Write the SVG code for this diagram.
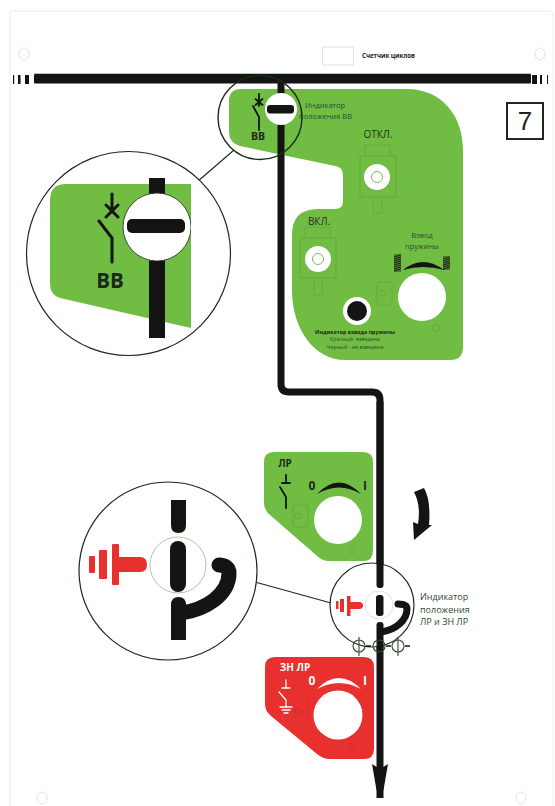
<svg xmlns="http://www.w3.org/2000/svg" width="555" height="806" viewBox="0 0 555 806">
<style>
.g{fill:#71bd44}
.r{fill:#e8312f}
.k{fill:#141414}
.w{fill:#fff}
.ring{fill:#fff;stroke:#1c2a1c;stroke-width:1.2}
.ringo{fill:none;stroke:#1c2a1c;stroke-width:1.4}
.sym{fill:none;stroke:#141414;stroke-width:1.8;stroke-linecap:round}
.hair{fill:none;stroke:#5fa83a;stroke-width:.8}
.hairr{fill:none;stroke:#c62a28;stroke-width:.8}
.hole{fill:#fff;stroke:#dfe6da;stroke-width:1}
.line{fill:none;stroke:#141414;stroke-width:7}
.t{font-family:"Open Sans","Noto Sans",sans-serif;fill:#2f4a2f}
.d{font-family:"Open Sans","Noto Sans",sans-serif;fill:#1f2f1f}
.b{font-family:"Open Sans","Noto Sans",sans-serif;font-weight:700;fill:#1a2a1a}
.wt{font-family:"Open Sans","Noto Sans",sans-serif;font-weight:700;fill:#fff}
.m{text-anchor:middle}
</style>
<g id="page">
<rect x="0" y="0" width="555" height="806" fill="#fff"/>
<rect x="10" y="11" width="543" height="815" rx="3" fill="#fff" stroke="#eceeea" stroke-width="1"/>
<ellipse class="hole" cx="24" cy="54" rx="5" ry="6"/>
<ellipse class="hole" cx="540" cy="54" rx="5" ry="6"/>
<ellipse class="hole" cx="42" cy="798" rx="5" ry="6"/>
<ellipse class="hole" cx="521" cy="798" rx="5" ry="6"/>
</g>
<g id="counter">
<rect x="322.500" y="47" width="31" height="18" fill="#fff" stroke="#e2e4df"/>
<text class="b" x="362" y="58" font-size="6.300" textLength="53">Счетчик циклов</text>
</g>
<g id="panel-main">
<path class="g" d="M241 89H407C441 89 463 115 463 150V347Q463 360 450 360H345C315 360 292 330 292 290V235Q292 209 318 209H335Q343 209 343 201V175Q343 167 335 166L240 146Q229 143 229 132V101Q229 89 241 89Z"/>
<text class="b m" x="258" y="140" font-size="10.500">ВВ</text>
<path class="sym" d="M259 94V106M255.500 99L262.500 105M262.500 99L255.500 105M253 106L259 117V130"/>
<text class="t" x="305" y="108" font-size="7.500">Индикатор</text>
<text class="t" x="299" y="119" font-size="7.500">положения ВВ</text>
<text class="d m" x="378" y="138" font-size="10">ОТКЛ.</text>
<g class="hair"><rect x="360" y="156" width="36" height="41"/><path d="M365 156V145H390V156M373 197V213H382V197"/></g>
<circle class="w" cx="377" cy="177" r="13"/>
<circle class="hair" cx="377" cy="177" r="5.500"/>
<text class="d m" x="319" y="225" font-size="10">ВКЛ.</text>
<g class="hair"><rect x="300" y="238" width="36" height="40"/><path d="M305 238V227H330V238M314 280V295H322V280"/></g>
<circle class="w" cx="318" cy="259" r="13"/>
<circle class="hair" cx="318" cy="259" r="5.500"/>
<text class="t m" x="422" y="238" font-size="7.500">Взвод</text>
<text class="t m" x="422" y="249" font-size="7.500">пружины</text>
<path class="k" d="M403 270Q423 254 444 270Q423 264 403 270Z"/>
<path d="M394 255H401L394 257H401L394 259H401L394 261H401L394 263H401L394 265H401L394 267H401L394 269H401L394 271H401" fill="none" stroke="#141414" stroke-width=".8"/>
<path d="M443 257H450L443 259H450L443 261H450L443 263H450L443 265H450L443 267H450L443 269H450" fill="none" stroke="#141414" stroke-width=".8"/>
<rect class="hair" x="377" y="282" width="15" height="23" rx="2"/>
<circle class="hair" cx="383" cy="293" r="3"/>
<circle class="w" cx="422" cy="297" r="24"/>
<circle class="hair" cx="436" cy="328" r="3.500"/>
<circle class="w" cx="357" cy="311" r="14"/>
<circle class="k" cx="357" cy="311" r="10"/>
<text class="b m" x="355" y="334" font-size="5.300">Индикатор взвода пружины</text>
<text class="t m" x="355" y="341" font-size="5.300">Красный- взведена</text>
<text class="t m" x="355" y="349" font-size="5.300">Черный - не взведена</text>
</g>
<g id="panel-lr">
<path class="g" d="M274 452H363Q373 452 373 462V551Q373 561 363 561H329Q322 561 316 555L270 515Q264 510 264 503V462Q264 452 274 452Z"/>
<text class="b m" x="285" y="467" font-size="10">ЛР</text>
<path class="sym" d="M286 475V483M282 483H290M280 487L286 497V508"/>
<text class="b m" x="312" y="490" font-size="12">0</text>
<text class="b m" x="365" y="490" font-size="12">I</text>
<path class="k" d="M317 494Q339 471 361 494Q339 481 317 494Z"/>
<rect class="hair" x="293" y="505" width="15" height="22" rx="2"/>
<circle class="hair" cx="298" cy="516" r="3"/>
<circle class="w" cx="338" cy="520" r="24"/>
<circle class="hair" cx="352" cy="550" r="3"/>
</g>
<g id="panel-zn">
<path class="r" d="M275 657H364Q374 657 374 667V749Q374 759 364 759H330Q323 759 317 754L271 716Q265 711 265 704V667Q265 657 275 657Z"/>
<text class="wt m" x="295" y="671" font-size="10">ЗН ЛР</text>
<path d="M286 680V688M282 688H290M279 692L286 700V707M280 707H292M282 710H290M284 713H288" fill="none" stroke="#fff" stroke-width="1.300" stroke-linecap="round"/>
<text class="wt m" x="312" y="685" font-size="12">0</text>
<text class="wt m" x="365" y="685" font-size="12">I</text>
<path class="w" d="M317 689Q339 667 361 689Q339 677 317 689Z"/>
<path class="hairr" d="M308 698V722"/>
<circle class="hairr" cx="298" cy="711" r="3"/>
<circle class="w" cx="338" cy="715" r="24.500"/>
<circle class="hairr" cx="352" cy="746" r="3"/>
</g>
<g id="connectors">
<rect class="k" x="34" y="74" width="497" height="9.500" rx="1"/>
<path d="M34 73.500H531" stroke="#9cc77f" stroke-width=".8" fill="none"/>
<g class="k">
<rect x="13" y="75" width="1.200" height="9"/><rect x="18" y="75" width="2.500" height="9"/><rect x="25" y="75" width="4" height="9"/>
<rect x="532" y="75" width="5" height="9"/><rect x="540" y="75" width="2" height="9"/><rect x="547" y="75" width="1" height="9"/>
</g>
<path class="line" d="M281 83V384Q281 392 289 392H372Q380 392 380 400V798"/>
<path class="k" d="M372 764L380 769L388 764L383.500 790H376.500Z"/>
<path class="k" d="M414 492L424 488Q431 500 429 525L432 525L414 540L413 522L418 524Q421 505 414 492Z"/>
<path fill="none" stroke="#1c2a1c" stroke-width="1.100" d="M197 182L234 150"/>
<path fill="none" stroke="#1c2a1c" stroke-width="1.100" d="M255 582L331 603"/>
</g>
<g id="indicator-vv-small">
<circle class="ringo" cx="260" cy="117.500" r="42"/>
<circle class="w" cx="281" cy="109" r="16"/>
<rect class="k" x="267" y="105" width="27" height="8.500" rx="3"/>
</g>
<g id="indicator-vv-large">
<circle class="ring" cx="128.500" cy="253.500" r="102"/>
<path class="g" d="M66 184H191V328L60 298Q50 295 50 284V200Q50 184 66 184Z"/>
<rect class="k" x="149" y="178" width="16" height="160"/>
<circle fill="#fff" stroke="#1c2a1c" stroke-width=".8" cx="157" cy="227" r="34"/>
<path fill="#fff" d="M191 193H198V261H191Z"/>
<rect class="k" x="127" y="219" width="58" height="14" rx="5"/>
<path fill="none" stroke="#141414" stroke-width="3" stroke-linecap="round" d="M112 194V212M106 205L118 217M118 205L106 217M99 221L112 238V262"/>
<text class="b m" x="110" y="288" font-size="20.500">ВВ</text>
</g>
<g id="indicator-lr-small">
<circle class="ring" cx="372" cy="605" r="42"/>
<rect class="k" x="376.500" y="400" width="7" height="188" rx="3"/>
<rect class="k" x="376.500" y="622" width="7" height="30" rx="3"/>
<circle fill="#fff" stroke="#dfe6da" cx="379" cy="605" r="14"/>
<rect class="k" x="376" y="595" width="7.500" height="21" rx="3"/>
<path fill="none" stroke="#141414" stroke-width="7" stroke-linecap="round" d="M381 632C396 630 407 620 407 609C407 605 403 604 398 604"/>
<g class="r"><rect x="336" y="601" width="2.500" height="8"/><rect x="340" y="599" width="4" height="13"/><rect x="347" y="596" width="3.500" height="20"/><path d="M350 602H359Q363 602 363 605.500Q363 609 359 609H350Z"/></g>
<g fill="none" stroke="#2f4a2f" stroke-width="1.100">
<circle cx="359" cy="646" r="6"/><path d="M359 637V656"/>
<circle cx="379" cy="646" r="6"/>
<circle cx="398" cy="646" r="6"/><path d="M398 637V656"/>
<path d="M366 646H371M386 646H391M405 646H410" stroke="#141414" stroke-width="1.600"/>
</g>
<text class="t" x="420" y="600" font-size="9">Индикатор</text>
<text class="t" x="420" y="613" font-size="9">положения</text>
<text class="t" x="420" y="625" font-size="9">ЛР и ЗН ЛР</text>
</g>
<g id="indicator-lr-large">
<circle class="ring" cx="168" cy="571" r="89"/>
<path class="k" d="M171 500H186V525Q186 533 178.500 533Q171 533 171 525Z"/>
<circle fill="#fff" stroke="#a9c99a" stroke-width="1" cx="178" cy="565" r="28"/>
<rect class="k" x="170" y="541" width="16" height="51" rx="8"/>
<path class="k" d="M171 605Q171 597 178.500 597Q186 597 186 605V640H171Z"/>
<path fill="none" stroke="#141414" stroke-width="15" stroke-linecap="round" d="M181 613C205 610 229 595 229 573C229 568 225 565 219 565"/>
<g class="r"><rect x="89" y="556" width="6" height="17" rx="1"/><rect x="99" y="550" width="8" height="29" rx="1"/><rect x="112" y="544" width="7" height="41" rx="1"/><path d="M119 557H140Q147 557 147 564.500Q147 572 140 572H119Z"/></g>
</g>
<g id="badge">
<rect x="507" y="103" width="36" height="36" fill="#fff" stroke="#1c2a1c" stroke-width="2"/>
<text x="525" y="130" font-size="26" text-anchor="middle" font-family="Liberation Sans,sans-serif" fill="#222">7</text>
</g>
</svg>
